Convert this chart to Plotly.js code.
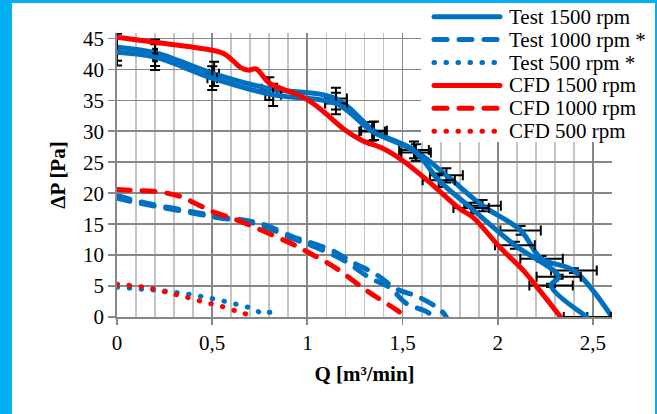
<!DOCTYPE html>
<html>
<head>
<meta charset="utf-8">
<script src="https://cdn.plot.ly/plotly-3.0.1.min.js"></script>
<style>
  html, body { margin: 0; padding: 0; width: 657px; height: 414px; background: #00B0F0; overflow: hidden; }
  #chart { position: absolute; left: 12px; top: 3px; width: 643px; height: 411px; background: #fff; }
  #chart path.js-line, #chart .shapelayer path { stroke-linecap: round; }
</style>
</head>
<body>
<div id="chart"></div>
<script>
// ---------- data ----------
const xTickVals = [0, 0.5, 1, 1.5, 2, 2.5];
const xTickText = ["0", "0,5", "1", "1,5", "2", "2,5"];
const yTickVals = [0, 5, 10, 15, 20, 25, 30, 35, 40, 45];

const legendLabels = ["Test 1500 rpm", "Test 1000 rpm *", "Test 500 rpm *", "CFD 1500 rpm", "CFD 1000 rpm", "CFD 500 rpm"];

// Test 1500 rpm - two measured branches (points with 5 % error bars)
const test1500Q1 = [0, 0.20, 0.51, 0.80, 1.15, 1.35, 1.56, 1.73, 1.92, 2.12, 2.23, 2.40, 2.60];
const test1500P1 = [43.6, 42.7, 39.3, 36.9, 35.3, 30.1, 27.0, 22.9, 18.0, 14.0, 9.4, 7.5, 0];
const test1500Q2 = [0, 0.20, 0.50, 0.82, 1.15, 1.34, 1.57, 1.69, 1.86, 2.09, 2.32, 2.28, 2.47];
const test1500P2 = [42.8, 42.0, 38.6, 35.9, 34.5, 30.0, 26.6, 22.1, 17.6, 11.6, 6.5, 5.1, 0];
const errPercent = 5;

// Test 1000 rpm * - two branches
const test1000Q1 = [0, 0.10, 0.20, 0.31, 0.43, 0.54, 0.68, 0.785, 0.92, 1.00, 1.14, 1.24, 1.36, 1.47, 1.58, 1.70, 1.73];
const test1000P1 = [19.6, 18.8, 18.1, 17.5, 16.8, 16.2, 15.6, 14.8, 13.0, 12.2, 10.6, 8.8, 6.9, 4.5, 3.3, 1.1, 0];
const test1000Q2 = [0, 0.10, 0.20, 0.31, 0.43, 0.54, 0.68, 0.785, 0.92, 1.05, 1.20, 1.33, 1.43, 1.52, 1.63, 1.66];
const test1000P2 = [19.2, 18.5, 17.9, 17.3, 16.6, 16.0, 15.4, 14.5, 12.7, 11.2, 9.0, 6.3, 4.8, 2.2, 0.8, 0];

// Test 500 rpm *
const test500Q = [0, 0.093, 0.16, 0.224, 0.286, 0.35, 0.414, 0.478, 0.543, 0.605, 0.666, 0.727, 0.768, 0.794, 0.847];
const test500P = [4.8, 4.6, 4.4, 4.3, 4.05, 3.8, 3.5, 3.1, 2.7, 2.2, 1.8, 1.1, 0.55, 0.8, 0.2];

// CFD 1500 rpm
const cfd1500Q = [0, 0.1, 0.2, 0.3, 0.4, 0.505, 0.56, 0.61, 0.65, 0.69, 0.73, 0.77, 0.80, 0.89, 0.96, 1.03, 1.10, 1.19, 1.29, 1.40, 1.50, 1.61, 1.71, 1.80, 1.87, 2.01, 2.135, 2.22, 2.33];
const cfd1500P = [45.2, 44.8, 44.4, 44.0, 43.6, 43.1, 42.6, 41.4, 40.3, 39.9, 40.1, 38.8, 37.8, 36.6, 35.8, 34.5, 32.8, 30.4, 28.5, 27.2, 25.3, 22.6, 19.9, 17.5, 16.1, 11.3, 7.5, 4.3, 0];

// CFD 1000 rpm
const cfd1000Q = [0, 0.10, 0.20, 0.33, 0.435, 0.505, 0.61, 0.70, 0.82, 0.92, 1.013, 1.15, 1.31, 1.47, 1.52];
const cfd1000P = [20.6, 20.45, 20.3, 19.5, 18.0, 17.0, 15.9, 14.8, 13.2, 11.8, 10.3, 7.9, 4.3, 1.1, 0];

// CFD 500 rpm
const cfd500Q = [0, 0.10, 0.16, 0.224, 0.286, 0.347, 0.408, 0.47, 0.531, 0.596, 0.657, 0.715];
const cfd500P = [5.3, 5.0, 4.75, 4.3, 3.8, 3.35, 2.85, 2.3, 1.9, 1.25, 0.7, 0];

// ---------- styling ----------
const BLUE = "#0070C0", RED = "#FF0000";
const FONT = "Liberation Serif, Times New Roman, serif";
const DASH = "13px,12px", DOT = "0.5px,11.5px";
const W = 5;

function join(a, b) { return a.concat([null], b); }

const errX = { type: "percent", value: errPercent, color: "#000", thickness: 2, width: 5 };
const errY = { type: "percent", value: errPercent, color: "#000", thickness: 2, width: 5 };

const traces = [
  { name: legendLabels[0], x: test1500Q1, y: test1500P1, mode: "lines",
    line: { color: BLUE, width: W, shape: "spline", smoothing: 1 }, error_x: errX, error_y: errY },
  { name: legendLabels[0], x: test1500Q2, y: test1500P2, mode: "lines",
    line: { color: BLUE, width: W, shape: "spline", smoothing: 1 }, error_x: errX, error_y: errY },
  { name: legendLabels[1], x: join(test1000Q1, test1000Q2), y: join(test1000P1, test1000P2), mode: "lines",
    line: { color: BLUE, width: W, dash: DASH, shape: "spline", smoothing: 1 } },
  { name: legendLabels[2], x: test500Q, y: test500P, mode: "lines",
    line: { color: BLUE, width: W, dash: DOT, shape: "spline", smoothing: 1 } },
  { name: legendLabels[3], x: cfd1500Q, y: cfd1500P, mode: "lines",
    line: { color: RED, width: W, shape: "spline", smoothing: 1 } },
  { name: legendLabels[4], x: cfd1000Q, y: cfd1000P, mode: "lines",
    line: { color: RED, width: W, dash: DASH, shape: "spline", smoothing: 1 } },
  { name: legendLabels[5], x: cfd500Q, y: cfd500P, mode: "lines",
    line: { color: RED, width: W, dash: DOT, shape: "spline", smoothing: 1 } }
];

// ---------- manual legend (pixel geometry -> paper coords) ----------
const PL = 117, PT = 33, PW = 495, PH = 284; // plot area in page px
const px = v => (v - PL) / PW;
const py = v => 1 - (v - PT) / PH;
const legendStyles = [
  { color: BLUE, dash: "solid" }, { color: BLUE, dash: DASH }, { color: BLUE, dash: DOT },
  { color: RED, dash: "solid" }, { color: RED, dash: DASH }, { color: RED, dash: DOT }
];
const shapes = [
  { type: "rect", xref: "paper", yref: "paper", layer: "above",
    x0: px(421), x1: px(655), y0: py(142), y1: py(3), fillcolor: "#fff", line: { width: 0 } }
];
const annotations = [];
legendLabels.forEach((lab, i) => {
  const yc = 16.7 + 22.9 * i;
  shapes.push({ type: "line", xref: "paper", yref: "paper", layer: "above",
    x0: px(434), x1: px(500), y0: py(yc), y1: py(yc),
    line: { color: legendStyles[i].color, width: W, dash: legendStyles[i].dash } });
  annotations.push({ text: lab, xref: "paper", yref: "paper", x: px(507), y: py(yc),
    xanchor: "left", yanchor: "middle", showarrow: false,
    font: { family: FONT, size: 21, color: "#000" } });
});

const layout = {
  width: 643, height: 411,
  margin: { l: 105, r: 43, t: 30, b: 97, pad: 0 },
  paper_bgcolor: "#ffffff", plot_bgcolor: "#ffffff",
  showlegend: false,
  xaxis: {
    range: [0, 2.6], tickvals: xTickVals, ticktext: xTickText,
    showgrid: true, gridcolor: "#878787", gridwidth: 1.8,
    minor: { dtick: 0.1, tick0: 0, showgrid: true, gridcolor: "#c4c4c4", gridwidth: 1.8, ticks: "" },
    zeroline: false, showline: true, linecolor: "#878787", linewidth: 1.8,
    ticks: "outside", ticklen: 6, tickcolor: "#878787", tickwidth: 1.8,
    tickfont: { family: FONT, size: 21, color: "#000" },
    title: { text: "<b>Q [m³/min]</b>", font: { family: FONT, size: 21, color: "#000" }, standoff: 12 },
    fixedrange: true
  },
  yaxis: {
    range: [0, 45.9], tickvals: yTickVals,
    showgrid: true, gridcolor: "#878787", gridwidth: 1.8,
    zeroline: false, showline: true, linecolor: "#878787", linewidth: 1.8,
    ticks: "outside", ticklen: 7, tickcolor: "#878787", tickwidth: 1.8,
    tickfont: { family: FONT, size: 21, color: "#000" },
    title: { text: "<b>ΔP [Pa]</b>", font: { family: FONT, size: 21, color: "#000" }, standoff: 12 },
    fixedrange: true
  },
  shapes: shapes,
  annotations: annotations
};

Plotly.newPlot("chart", traces, layout, { displayModeBar: false, staticPlot: true });
</script>
</body>
</html>
